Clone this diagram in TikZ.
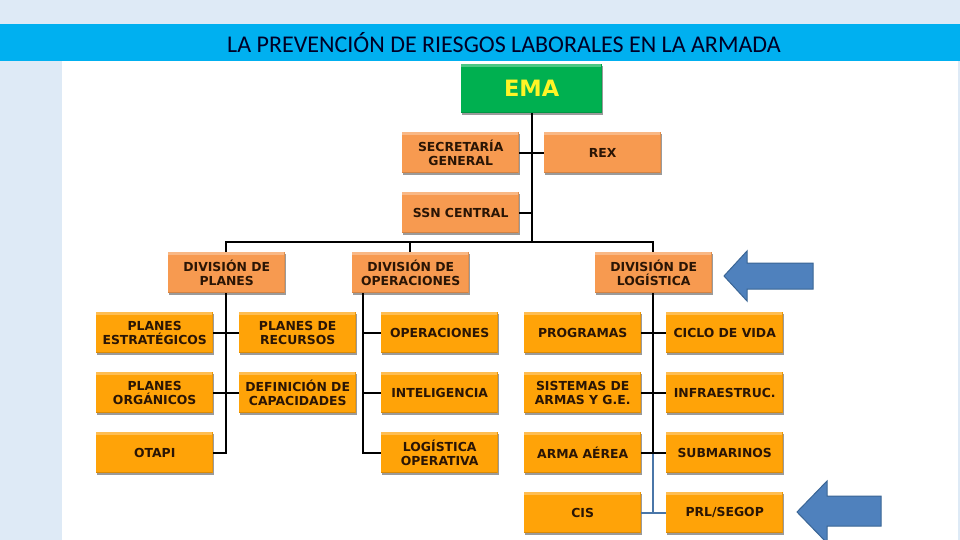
\documentclass[tikz,border=0pt]{standalone}
\usepackage{fontspec}
\setmainfont{Carlito}
\newfontfamily\boxfont{DejaVu Sans}
\usetikzlibrary{shadows}
\definecolor{pale}{HTML}{DEEAF6}
\definecolor{band}{HTML}{00B0F0}
\definecolor{orgA}{HTML}{F79A50}
\definecolor{orgB}{HTML}{FFA308}
\definecolor{grn}{HTML}{00B050}
\definecolor{arrowblue}{HTML}{4F81BD}
\definecolor{arrowedge}{HTML}{3A6595}
\definecolor{prlline}{HTML}{4A76A8}
\definecolor{inktext}{HTML}{2A1505}
\tikzset{
  x=1pt,y=-1pt,
  orgbox/.style={minimum width=117pt,minimum height=41pt,inner sep=0pt,align=center,anchor=north west,
    font=\boxfont\bfseries\fontsize{12.4}{13.6}\selectfont,text=inktext,
    fill=#1,drop shadow={shadow xshift=1pt,shadow yshift=-1.5pt,opacity=.6,fill=black!65},
    path picture={
      \fill[#1!70!white] (path picture bounding box.north west) rectangle ([yshift=-2.5pt]path picture bounding box.north east);
      \fill[#1!85!black] (path picture bounding box.south west) rectangle ([yshift=1.5pt]path picture bounding box.south east);
      \fill[#1!92!black] (path picture bounding box.north east) rectangle ([xshift=-1.5pt]path picture bounding box.south east);
    }},
  light/.style={orgbox=orgA},
  dark/.style={orgbox=orgB},
  line/.style={draw=black,line width=1.8pt},
  blueline/.style={draw=prlline,line width=1.6pt},
  bigarrow/.style={draw=arrowedge,fill=arrowblue,line width=1pt},
}
\begin{document}
\begin{tikzpicture}
\useasboundingbox (0,0) rectangle (960,540);
\fill[pale] (0,0) rectangle (960,540);
\fill[white] (62,61) rectangle (958,540);
\fill[band] (0,24) rectangle (960,61);
\node[font=\fontsize{24}{26}\selectfont,text=black!85!blue,inner sep=0pt] (title) at (504,43) {LA PREVENCIÓN DE RIESGOS LABORALES EN LA ARMADA};

% connector junctions
\coordinate (bus) at (532,242);
\coordinate (busL) at (226,242);
\coordinate (busM) at (410,242);
\coordinate (busR) at (653,242);
\coordinate (spineP) at (226,452);
\coordinate (spineO) at (363,452);
\coordinate (spineLa) at (653,452);

% boxes
\node[orgbox=grn,minimum width=141pt,minimum height=49pt,font=\boxfont\bfseries\fontsize{22.5}{24}\selectfont,text=yellow!85!white] (ema) at (461,64) {EMA};
\node[light] (sec) at (402,132) {SECRETARÍA\\GENERAL};
\node[light] (rex) at (544,132) {REX};
\node[light] (ssn) at (402,192) {SSN CENTRAL};
\node[light] (dp) at (168,252) {DIVISIÓN DE\\PLANES};
\node[light] (dop) at (352,252) {DIVISIÓN DE\\OPERACIONES};
\node[light] (dl) at (595,252) {DIVISIÓN DE\\LOGÍSTICA};

\node[dark] (pe) at (96,312) {PLANES\\ESTRATÉGICOS};
\node[dark] (pr) at (239,312) {PLANES DE\\RECURSOS};
\node[dark] (po) at (96,372) {PLANES\\ORGÁNICOS};
\node[dark] (dc) at (239,372) {DEFINICIÓN DE\\CAPACIDADES};
\node[dark] (ot) at (96,432) {OTAPI};
\node[dark] (op) at (381,312) {OPERACIONES};
\node[dark] (in) at (381,372) {INTELIGENCIA};
\node[dark] (lo) at (381,432) {LOGÍSTICA\\OPERATIVA};
\node[dark] (pg) at (524,312) {PROGRAMAS};
\node[dark] (cv) at (666,312) {CICLO DE VIDA};
\node[dark] (sa) at (524,372) {SISTEMAS DE\\ARMAS Y G.E.};
\node[dark] (if) at (666,372) {INFRAESTRUC.};
\node[dark] (aa) at (524,432) {ARMA AÉREA};
\node[dark] (sb) at (666,432) {SUBMARINOS};
\node[dark] (ci) at (524,492) {CIS};
\node[dark] (ps) at (666,492) {PRL/SEGOP};

% connectors
\draw[line] (ema.south -| bus) -- (bus);
\draw[line] (sec.east) -- (rex.west);
\draw[line] (ssn.east) -- (ssn.east -| bus);
\draw[line] (dp.north -| busL) -- (busL) -- (busR) -- (dl.north -| busR);
\draw[line] (dop.north -| busM) -- (busM);
\draw[line] (dp.south -| spineP) |- (ot.east);
\draw[line] (pe.east) -- (pr.west);
\draw[line] (po.east) -- (dc.west);
\draw[line] (dop.south -| spineO) |- (lo.west);
\draw[line] (op.west) -- (op.west -| spineO);
\draw[line] (in.west) -- (in.west -| spineO);
\draw[blueline] (spineLa) -- (ci.east -| spineLa);
\draw[blueline] (ci.east) -- (ps.west);
\draw[line] (dl.south -| spineLa) -- (spineLa);
\draw[line] (pg.east) -- (cv.west);
\draw[line] (sa.east) -- (if.west);
\draw[line] (aa.east) -- (sb.west);

% arrows
\draw[bigarrow] (724,276) -- (747,251) -- (747,263) -- (813,263) -- (813,289) -- (747,289) -- (747,301) -- cycle;
\draw[bigarrow] (797,512) -- (827,481) -- (827,496) -- (881,496) -- (881,526) -- (827,526) -- (827,543) -- cycle;
\end{tikzpicture}
\end{document}
